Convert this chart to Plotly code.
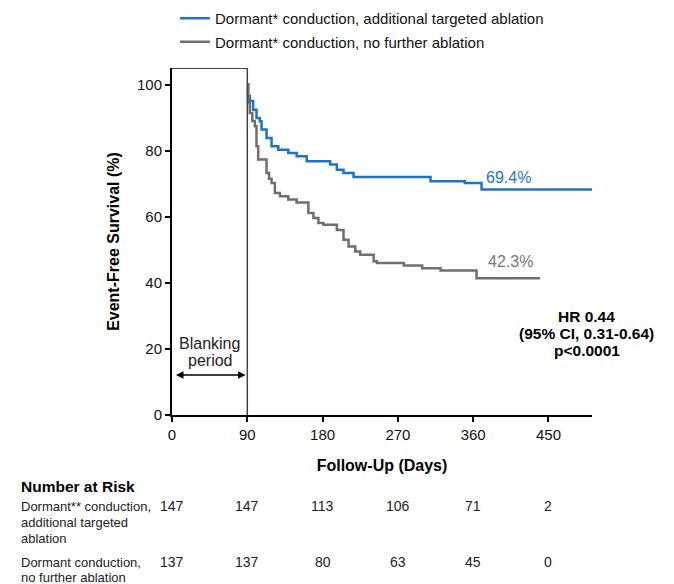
import plotly.graph_objects as go

# ---- data ----
blue_name = "Dormant* conduction, additional targeted ablation"
gray_name = "Dormant* conduction, no further ablation"

blue_t = [90, 91, 93, 97, 101, 105, 107, 113, 119, 127, 139, 149, 161, 189, 197, 205, 217, 309, 350, 370, 502]
blue_s = [100, 96.5, 95, 92.4, 89.9, 88.9, 86.4, 83.8, 81.3, 80.3, 79.3, 78.3, 76.8, 75.8, 74.2, 73.2, 72.0, 70.7, 70.2, 68.2, 68.2]

gray_t = [90, 91, 93, 96, 99, 101, 103, 113, 116, 119, 123, 129, 139, 149, 163, 169, 175, 181, 197, 205, 211,
          219, 225, 241, 245, 277, 299, 321, 364, 440]
gray_s = [100, 94.4, 91.4, 89.0, 87.4, 81.3, 77.3, 73.2, 71.5, 70.2, 67.2, 66.2, 65.2, 64.3, 61.1, 59.6, 58.1,
          57.6, 56.0, 53.0, 51.0, 49.5, 48.5, 46.5, 46.0, 45.2, 44.4, 43.7, 41.4, 41.4]

x_ticks = [0, 90, 180, 270, 360, 450]
y_ticks = [0, 20, 40, 60, 80, 100]

risk_days = [0, 90, 180, 270, 360, 450]
risk_blue = [147, 147, 113, 106, 71, 2]
risk_gray = [137, 137, 80, 63, 45, 0]

blue_label = "69.4%"
gray_label = "42.3%"
hr_lines = ["HR 0.44", "(95% CI, 0.31-0.64)", "p<0.0001"]
blank_lines = ["Blanking", "period"]

BLUE = "#1f74c2"
GRAY = "#6f6f6f"
FONT = "Liberation Sans, Arial, sans-serif"

OFF = 8  # page body margin
W, H = 674 - OFF, 584 - OFF
L, T = 172 - OFF, 68 - OFF
R = W - (592 - OFF)
B = H - (415 - OFF)
PW, PH = W - L - R, H - T - B
YMAX = 105


def py(ypage):
    """page pixel row -> paper y"""
    return (415 - ypage) / PH


def px(xpage):
    """page pixel column -> paper x"""
    return (xpage - 172) / PW


def yd(ypage):
    """page pixel row -> data y"""
    return (415 - ypage) / PH * YMAX


fig = go.Figure()
fig.add_trace(go.Scatter(x=blue_t, y=blue_s, mode="lines", line=dict(shape="hv", color=BLUE, width=2.5),
                         name=blue_name, legendgroup="a"))
fig.add_trace(go.Scatter(x=gray_t, y=gray_s, mode="lines", line=dict(shape="hv", color=GRAY, width=2.5),
                         name=gray_name, legendgroup="b"))

# blanking box
fig.add_shape(type="line", x0=0, x1=90, y0=YMAX, y1=YMAX, xref="x", yref="y", line=dict(color="black", width=1.5))
fig.add_shape(type="line", x0=90, x1=90, y0=0, y1=YMAX, xref="x", yref="y", line=dict(color="#444", width=1.5))

ann = []
ann.append(dict(x=88, y=yd(375), ax=3, ay=yd(375), xref="x", yref="y", axref="x", ayref="y", text="",
                showarrow=True, arrowhead=2, arrowside="end+start", arrowsize=1, arrowwidth=1.5,
                arrowcolor="black"))
for s, yy in zip(blank_lines, [343, 360]):
    ann.append(dict(x=45, y=yd(yy), xref="x", yref="y", text=s, showarrow=False,
                    xanchor="center", yanchor="middle", font=dict(size=16, color="#222")))
ann.append(dict(x=402, y=yd(177), xref="x", yref="y", text=blue_label, showarrow=False,
                xanchor="center", yanchor="middle", font=dict(size=16, color=BLUE)))
ann.append(dict(x=405, y=yd(261), xref="x", yref="y", text=gray_label, showarrow=False,
                xanchor="center", yanchor="middle", font=dict(size=16, color="#777")))
for s, yy in zip(hr_lines, [316, 333, 350]):
    ann.append(dict(x=496, y=yd(yy), xref="x", yref="y", text="<b>%s</b>" % s,
                    showarrow=False, xanchor="center", yanchor="middle",
                    font=dict(size=15.5, color="black")))

# risk table
ann.append(dict(x=px(19), y=py(486), xref="paper", yref="paper", text="<b>Number at Risk</b>", showarrow=False,
                xanchor="left", yanchor="middle", font=dict(size=15.5, color="black")))
for s, yy in zip(["Dormant** conduction,", "additional targeted", "ablation"], [506, 522, 538]):
    ann.append(dict(x=px(19), y=py(yy), xref="paper", yref="paper", text=s, showarrow=False,
                    xanchor="left", yanchor="middle", font=dict(size=13, color="#222")))
for s, yy in zip(["Dormant conduction,", "no further ablation"], [562, 577]):
    ann.append(dict(x=px(19), y=py(yy), xref="paper", yref="paper", text=s, showarrow=False,
                    xanchor="left", yanchor="middle", font=dict(size=13, color="#222")))
for d, nb, ng in zip(risk_days, risk_blue, risk_gray):
    ann.append(dict(x=d, y=py(506), xref="x", yref="paper", text=str(nb), showarrow=False,
                    xanchor="center", yanchor="middle", font=dict(size=14, color="#222")))
    ann.append(dict(x=d, y=py(562), xref="x", yref="paper", text=str(ng), showarrow=False,
                    xanchor="center", yanchor="middle", font=dict(size=14, color="#222")))

fig.update_layout(
    width=W, height=H, margin=dict(l=L, r=R, t=T, b=B, autoexpand=False),
    plot_bgcolor="white", paper_bgcolor="white",
    font=dict(family=FONT, size=14, color="black"),
    annotations=ann,
    showlegend=True,
    legend=dict(x=-0.012 + 8 / PW, y=py(2), xanchor="left", yanchor="top", tracegroupgap=1,
                font=dict(size=15, color="#111"), bgcolor="rgba(0,0,0,0)"),
    xaxis=dict(range=[0, 502], tickvals=x_ticks, showline=True, linecolor="black", linewidth=2,
               ticks="outside", ticklen=5, tickwidth=2, tickcolor="black", showgrid=False, zeroline=False,
               tickfont=dict(size=15, color="#111"),
               title=dict(text="<b>Follow-Up (Days)</b>", standoff=18, font=dict(size=16))),
    yaxis=dict(range=[0, YMAX], tickvals=y_ticks, showline=True, linecolor="black", linewidth=2,
               ticks="outside", ticklen=5, tickwidth=2, tickcolor="black", showgrid=False, zeroline=False,
               tickfont=dict(size=15, color="#111"),
               title=dict(text="<b>Event-Free Survival (%)</b>", standoff=13, font=dict(size=16))),
)

fig.write_html("out.html")
